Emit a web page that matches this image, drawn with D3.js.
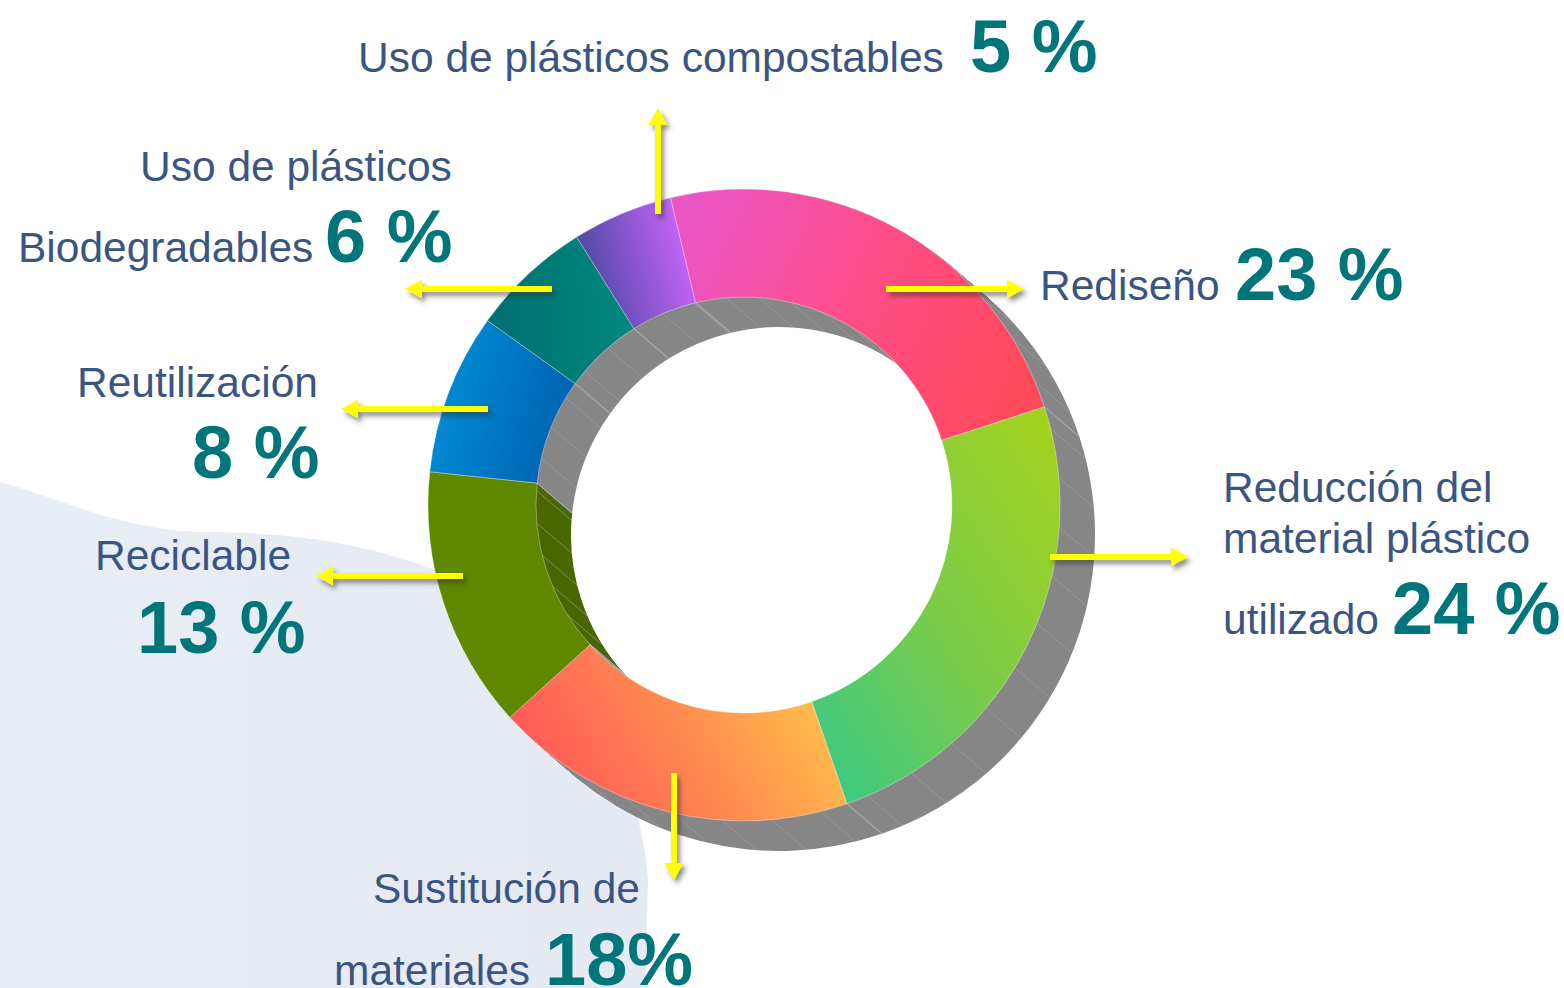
<!DOCTYPE html>
<html><head><meta charset="utf-8">
<script src="https://cdn.jsdelivr.net/npm/d3@7"></script>
<style>html,body{margin:0;padding:0;background:#fff;overflow:hidden}</style>
</head><body>
<svg id="chart" width="1564" height="988"></svg>
<script>
// ---- data ----
const categories = ["Uso de plásticos compostables", "Rediseño", "Reducción del material plástico utilizado", "Sustitución de materiales", "Reciclable", "Reutilización", "Uso de plásticos Biodegradables"];
const values = [5, 23, 24, 18, 13, 8, 6];
const percentLabels = ["5 %", "23 %", "24 %", "18%", "13 %", "8 %", "6 %"];
const labelLines = [["Uso de plásticos compostables"], ["Rediseño"], ["Reducción del", "material plástico", "utilizado"], ["Sustitución de", "materiales"], ["Reciclable"], ["Reutilización"], ["Uso de plásticos", "Biodegradables"]];

// ---- styles / layout ----
const gradients = [
  {x1:0,y1:0.7,x2:1,y2:0.4, stops:["#44459a","#cd66ff"]},
  {x1:0,y1:0.3,x2:1,y2:0.6, stops:["#ea55c4","#ff4d88","#ff4a5a"]},
  {x1:1,y1:0,x2:0,y2:1, stops:["#a6d21a","#7ccc48","#34c98a"]},
  {x1:0,y1:0.6,x2:1,y2:0.3, stops:["#ff5458","#ff8a50","#ffc84a"]},
  {x1:0,y1:0,x2:1,y2:1, stops:["#5f8800","#618700"]},
  {x1:0,y1:0.3,x2:1,y2:0.6, stops:["#0090d8","#0060b0"]},
  {x1:0,y1:0.5,x2:1,y2:0.4, stops:["#006f72","#00897f"]}
];
const sideColors = ["#878787","#878787","#878787","#878787","#4a6800","#878787","#878787"];
const textLayout = [
  {lines:[[358,72]], pct:[970,72]},
  {lines:[[1040,300]], pct:[1235,300]},
  {lines:[[1223,502],[1223,553],[1223,634]], pct:[1392,634]},
  {lines:[[373,903],[334,985]], pct:[545,985]},
  {lines:[[95,570]], pct:[137,653]},
  {lines:[[77,397]], pct:[192,478]},
  {lines:[[140,181],[18,262]], pct:[325,262]}
];
const arrowLayout = [
  [[658,214],[658,108]],
  [[886,289],[1024,289]],
  [[1050,557],[1188,557]],
  [[674,773],[674,880]],
  [[463,576],[316,576]],
  [[488,409],[341,409]],
  [[552,289],[405,289]]
];

const svg = d3.select("#chart");
const defs = svg.append("defs");

// background wave
const bgGrad = defs.append("linearGradient").attr("id","bg").attr("x1",0).attr("y1",0).attr("x2",1).attr("y2",0);
bgGrad.append("stop").attr("offset",0).attr("stop-color","#e8eef6");
bgGrad.append("stop").attr("offset",1).attr("stop-color","#e5e9f2");
svg.append("path")
  .attr("d","M0,482 C60,498 120,530 200,532 C280,532 360,540 440,572 C560,625 640,760 648,880 L645,988 L0,988 Z")
  .attr("fill","url(#bg)");

const cx = 744, cy = 505, R = 316, r = 208, ex = 35, ey = 30;
const a0 = -32 * Math.PI / 180;
const pie = d3.pie().sort(null).value(d => d).startAngle(a0).endAngle(a0 + 2 * Math.PI);
const arcs = pie(values);
const arc = d3.arc().innerRadius(r).outerRadius(R);

gradients.forEach((gd, i) => {
  const lg = defs.append("linearGradient").attr("id","g"+i)
    .attr("x1",gd.x1).attr("y1",gd.y1).attr("x2",gd.x2).attr("y2",gd.y2);
  gd.stops.forEach((c, j) => lg.append("stop").attr("offset", j/(gd.stops.length-1)).attr("stop-color", c));
});

const f = defs.append("filter").attr("id","sh").attr("x","-30%").attr("y","-30%").attr("width","160%").attr("height","160%");
f.append("feDropShadow").attr("dx",3).attr("dy",4).attr("stdDeviation",2.5).attr("flood-color","#333").attr("flood-opacity",0.55);

const g = svg.append("g").attr("transform",`translate(${cx},${cy})`);
// extrusion
const N = 40;
for (let k = N; k >= 1; k--) {
  g.append("g").attr("transform",`translate(${ex*k/N},${ey*k/N})`)
    .selectAll("path").data(arcs).join("path")
    .attr("d", arc).attr("fill", (d,i) => sideColors[i]);
}
// facet lines on walls
const facetStep = 9 * Math.PI / 180;
for (let a = a0; a < a0 + 2*Math.PI; a += facetStep) {
  [R, r].forEach(rad => {
    const x = rad * Math.sin(a), y = -rad * Math.cos(a);
    g.append("line").attr("x1",x).attr("y1",y).attr("x2",x+ex).attr("y2",y+ey)
      .attr("stroke","#a2a2a2").attr("stroke-width",1).attr("opacity",0.6);
  });
}
// segment edge lines on walls
arcs.forEach(d => {
  const a = d.startAngle;
  [R, r].forEach(rad => {
    const x = rad * Math.sin(a), y = -rad * Math.cos(a);
    g.append("line").attr("x1",x).attr("y1",y).attr("x2",x+ex).attr("y2",y+ey)
      .attr("stroke","#a8a8a8").attr("stroke-width",1.2);
  });
});
// top faces
g.selectAll("path.top").data(arcs).join("path").attr("class","top")
  .attr("d", arc).attr("fill", (d,i) => `url(#g${i})`)
  .attr("stroke","rgba(255,255,255,0.35)").attr("stroke-width",1);

// arrows
const ag = svg.append("g").attr("filter","url(#sh)");
arrowLayout.forEach(([s, e]) => {
  const dx = e[0]-s[0], dy = e[1]-s[1], L = Math.hypot(dx,dy);
  const ux = dx/L, uy = dy/L, hl = 17, hw = 9.5;
  const bx = e[0]-ux*hl, by = e[1]-uy*hl;
  ag.append("line").attr("x1",s[0]).attr("y1",s[1]).attr("x2",bx+ux*2).attr("y2",by+uy*2)
    .attr("stroke","#ffff00").attr("stroke-width",6);
  ag.append("path").attr("d",`M${e[0]},${e[1]}L${bx-uy*hw},${by+ux*hw}L${bx+uy*hw},${by-ux*hw}Z`).attr("fill","#ffff00");
});

// labels
const tg = svg.append("g").attr("font-family","'Liberation Sans', Arial, sans-serif");
categories.forEach((c, i) => {
  const L = textLayout[i];
  labelLines[i].forEach((t, j) => {
    tg.append("text").attr("x",L.lines[j][0]).attr("y",L.lines[j][1])
      .attr("font-size",42.5).attr("fill","#3b5583").text(t);
  });
  tg.append("text").attr("x",L.pct[0]).attr("y",L.pct[1])
    .attr("font-size",74).attr("font-weight","bold").attr("fill","#00757a").text(percentLabels[i]);
});
</script>
</body></html>
